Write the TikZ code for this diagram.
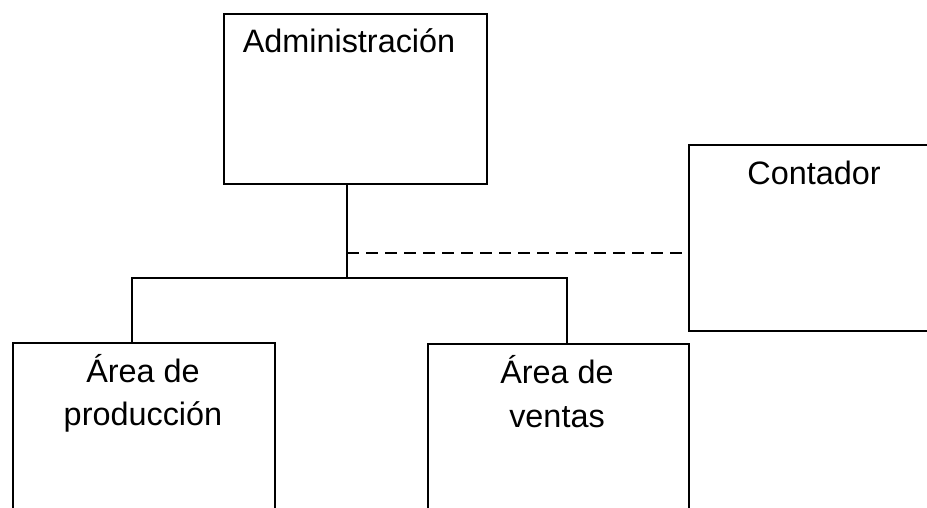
\documentclass[tikz,border=0pt]{standalone}
\usepackage{fontspec}
\setmainfont{Liberation Sans}
\tikzset{
  box/.style={draw=black, line width=2pt, fill=white, inner sep=0pt, anchor=north west},
  lbl/.style={font=\fontsize{32.4}{38}\selectfont, inner sep=0pt, anchor=base},
  conn/.style={draw=black, line width=1.6pt},
  dconn/.style={draw=black, line width=2pt, dash pattern=on 12pt off 7pt}
}
\begin{document}
\begin{tikzpicture}[x=1pt,y=-1pt]
\useasboundingbox (0,0) rectangle (927,508);
\clip (0,0) rectangle (927,508);
\fill[white] (0,0) rectangle (927,508);
% boxes
\node[box, minimum width=263pt, minimum height=170pt] (adm) at (223,13) {};
\node[box, minimum width=252pt, minimum height=186pt] (cont) at (688,144) {};
\node[box, minimum width=262pt, minimum height=190pt] (prod) at (12,342) {};
\node[box, minimum width=261pt, minimum height=190pt] (ven) at (427,343) {};
% labels
\node[lbl] (admt) at (349,53) {Administración};
\node[lbl] (contt) at (814,185) {Contador};
\node[lbl] (prod1) at (143,382) {Área de};
\node[lbl] (prod2) at (143,425) {producción};
\node[lbl] (ven1) at (557,383) {Área de};
\node[lbl] (ven2) at (557,427) {ventas};
% connectors
\coordinate (j) at (347,278);
\coordinate (jl) at (132,278);
\coordinate (jr) at (567,278);
\coordinate (d) at (347,253);
\draw[conn] (j |- adm.south) -- (j);
\draw[conn] (jl |- prod.north) -- (jl) -- (jr) -- (jr |- ven.north);
\draw[dconn] (d) -- (d -| cont.west);
\end{tikzpicture}
\end{document}
